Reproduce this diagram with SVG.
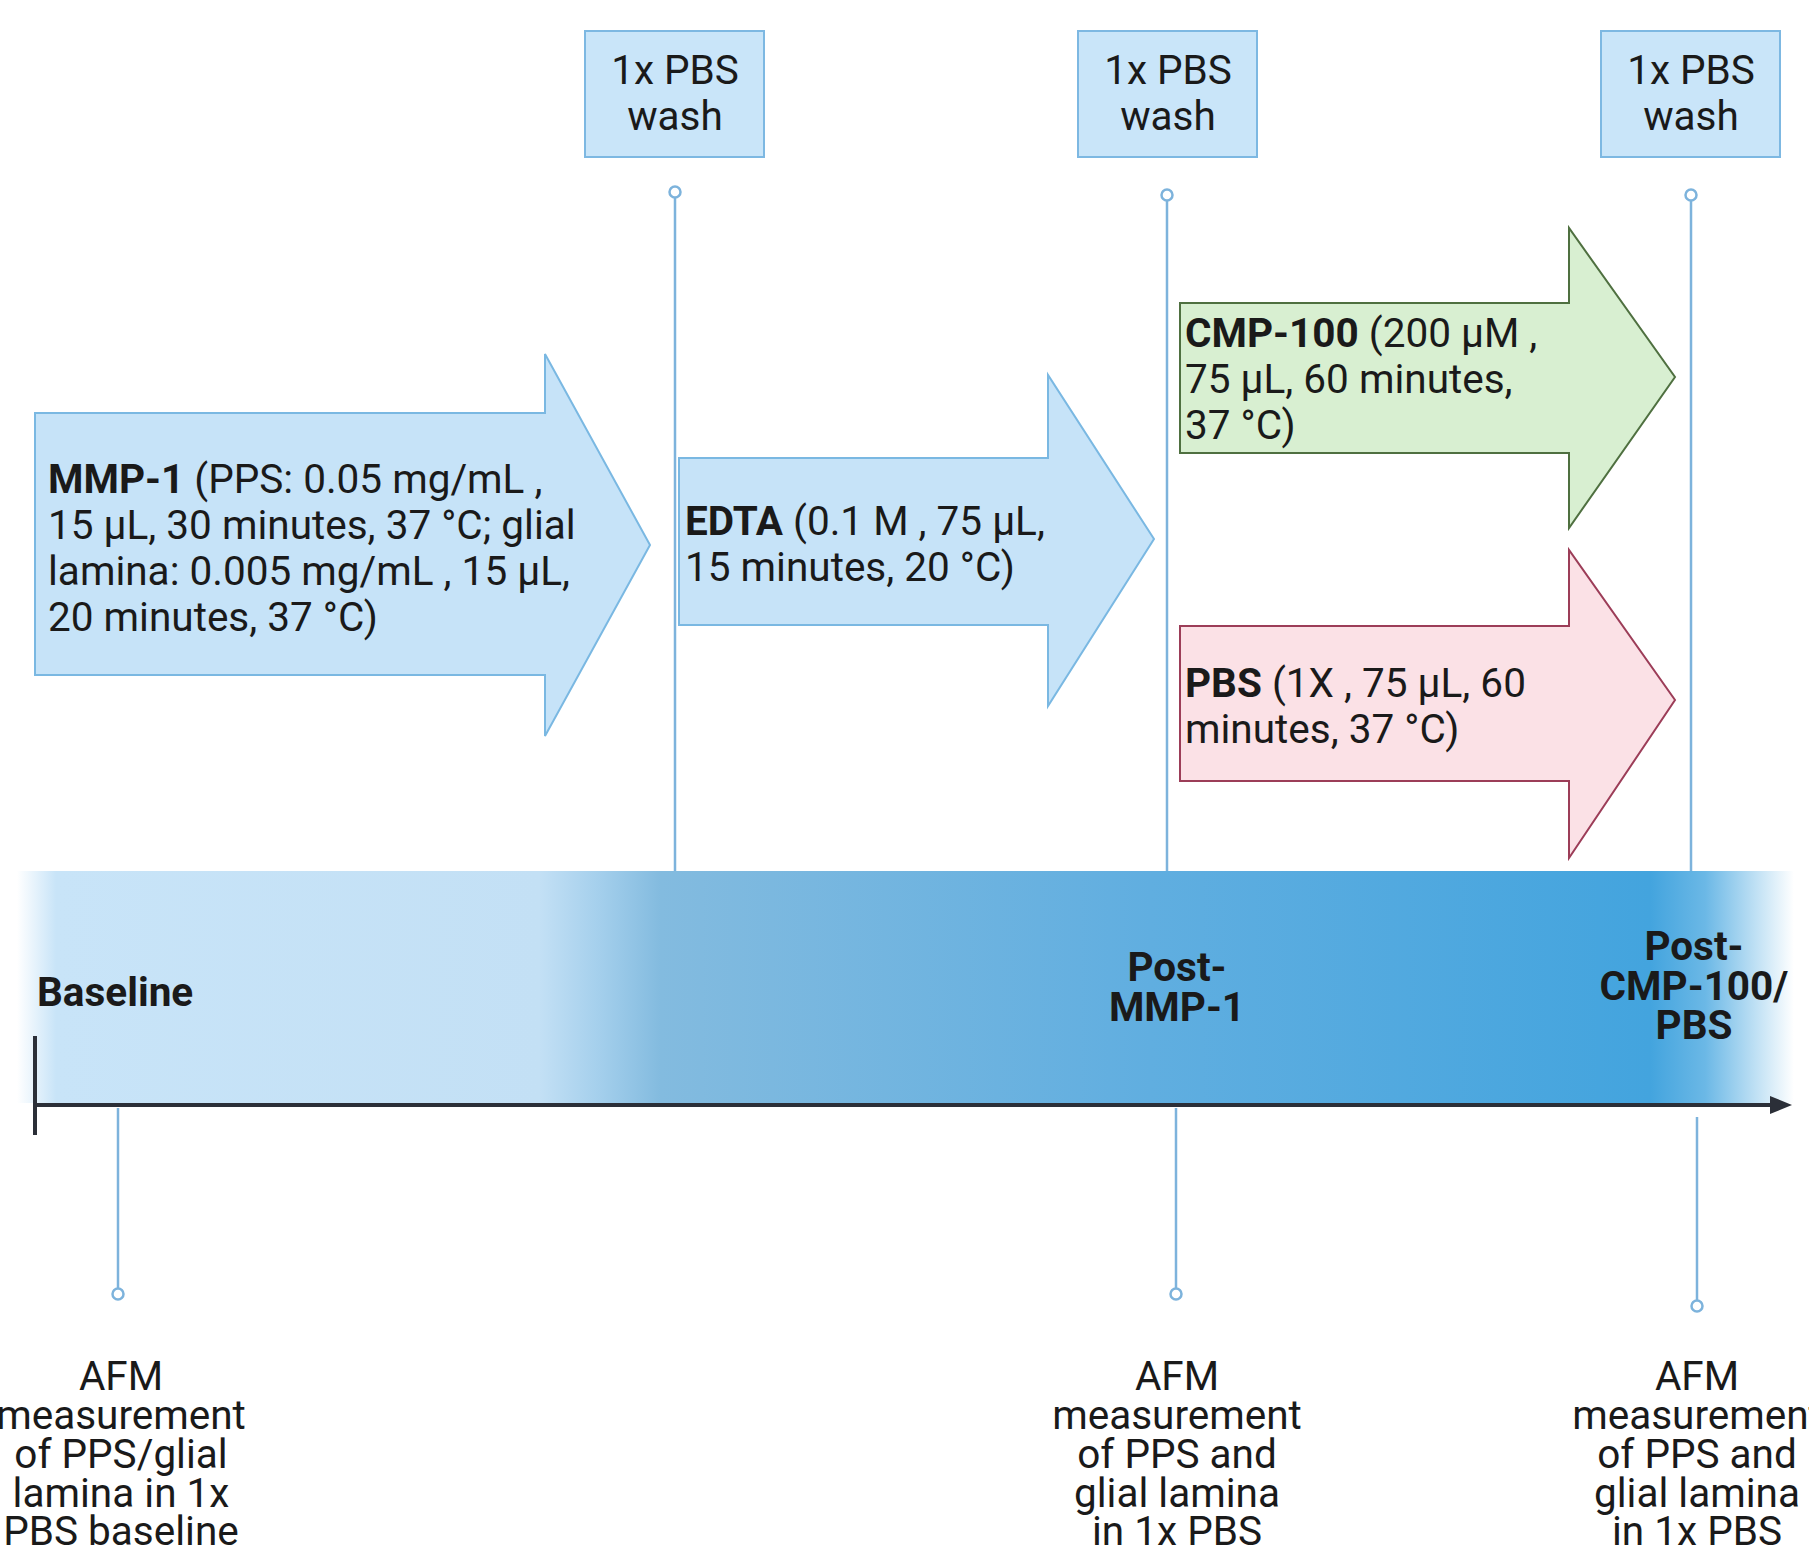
<svg xmlns="http://www.w3.org/2000/svg" width="1809" height="1556" viewBox="0 0 1809 1556">
<style>
.t{font-family:Roboto,"Liberation Sans",sans-serif;font-size:40.5px;fill:#1a1a1a}
.b{font-weight:bold}
.c{text-anchor:middle}
.wash{fill:#c9e5f9;stroke:#7db8e2;stroke-width:2}
.vl{stroke:#7db3dc;stroke-width:2.5;fill:none}
.dot{fill:#fff;stroke:#7db3dc;stroke-width:2.5}
.blue{fill:#c6e3f8;stroke:#7ab8e2;stroke-width:2}
.green{fill:#d8efd1;stroke:#4f7040;stroke-width:2}
.pink{fill:#fbe1e6;stroke:#9c3d58;stroke-width:2}
</style>
<defs>
<linearGradient id="band" x1="17" y1="0" x2="1794" y2="0" gradientUnits="userSpaceOnUse">
<stop offset="0" stop-color="#ffffff"/>
<stop offset="0.022" stop-color="#c8e4f8"/>
<stop offset="0.294" stop-color="#c3e0f5"/>
<stop offset="0.328" stop-color="#a4cfec"/>
<stop offset="0.362" stop-color="#83bbdf"/>
<stop offset="0.638" stop-color="#60aee0"/>
<stop offset="0.919" stop-color="#43a4de"/>
<stop offset="0.95" stop-color="#6bb8e6"/>
<stop offset="1" stop-color="#ffffff"/>
</linearGradient>
</defs>

<g id="timeline-band">
<rect x="17" y="871" width="1777" height="232" fill="url(#band)"/>
</g>

<g id="connectors">
<line class="vl" x1="675" y1="198" x2="675" y2="871"/>
<circle class="dot" cx="675" cy="192" r="5.5"/>
<line class="vl" x1="1167" y1="201" x2="1167" y2="871"/>
<circle class="dot" cx="1167" cy="195" r="5.5"/>
<line class="vl" x1="1691" y1="201" x2="1691" y2="871"/>
<circle class="dot" cx="1691" cy="195" r="5.5"/>
<line class="vl" x1="118" y1="1108" x2="118" y2="1288"/>
<circle class="dot" cx="118" cy="1294" r="5.5"/>
<line class="vl" x1="1176" y1="1108" x2="1176" y2="1288"/>
<circle class="dot" cx="1176" cy="1294" r="5.5"/>
<line class="vl" x1="1697" y1="1117" x2="1697" y2="1300"/>
<circle class="dot" cx="1697" cy="1306" r="5.5"/>
<line x1="35" y1="1036" x2="35" y2="1135" stroke="#2b2f38" stroke-width="4"/>
<line x1="35" y1="1105" x2="1772" y2="1105" stroke="#2b2f38" stroke-width="4"/>
<polygon points="1770,1096 1792,1105 1770,1114" fill="#2b2f38"/>
</g>

<g id="wash1">
<rect class="wash" x="585" y="31" width="179" height="126"/>
<text class="t c" x="675" y="84">1x PBS</text>
<text class="t c" x="675" y="130">wash</text>
</g>
<g id="wash2">
<rect class="wash" x="1078" y="31" width="179" height="126"/>
<text class="t c" x="1168" y="84">1x PBS</text>
<text class="t c" x="1168" y="130">wash</text>
</g>
<g id="wash3">
<rect class="wash" x="1601" y="31" width="179" height="126"/>
<text class="t c" x="1691" y="84">1x PBS</text>
<text class="t c" x="1691" y="130">wash</text>
</g>

<g id="mmp1">
<polygon class="blue" points="35,413 545,413 545,354 650,545 545,736 545,675 35,675"/>
<text class="t" x="48" y="493"><tspan class="b">MMP-1</tspan> (PPS: 0.05 mg/mL ,</text>
<text class="t" x="48" y="539">15 µL, 30 minutes, 37 °C; glial</text>
<text class="t" x="48" y="585">lamina: 0.005 mg/mL , 15 µL,</text>
<text class="t" x="48" y="631">20 minutes, 37 °C)</text>
</g>

<g id="edta">
<polygon class="blue" points="679,458 1048,458 1048,375 1154,539 1048,706 1048,625 679,625"/>
<text class="t" x="685" y="535"><tspan class="b">EDTA</tspan> (0.1 M , 75 µL,</text>
<text class="t" x="685" y="581">15 minutes, 20 °C)</text>
</g>

<g id="cmp100">
<polygon class="green" points="1180,303 1569,303 1569,228 1675,377 1569,528 1569,453 1180,453"/>
<text class="t" x="1185" y="347"><tspan class="b">CMP-100</tspan> (200 µM ,</text>
<text class="t" x="1185" y="393">75 µL, 60 minutes,</text>
<text class="t" x="1185" y="439">37 °C)</text>
</g>

<g id="pbs">
<polygon class="pink" points="1180,626 1569,626 1569,550 1675,700 1569,858 1569,781 1180,781"/>
<text class="t" x="1185" y="697"><tspan class="b">PBS</tspan> (1X , 75 µL, 60</text>
<text class="t" x="1185" y="743">minutes, 37 °C)</text>
</g>

<g id="label-baseline">
<text class="t b" x="37" y="1006">Baseline</text>
</g>
<g id="label-postmmp">
<text class="t b c" x="1177" y="981">Post-</text>
<text class="t b c" x="1177" y="1021">MMP-1</text>
</g>
<g id="label-postcmp">
<text class="t b c" x="1694" y="960">Post-</text>
<text class="t b c" x="1694" y="1000">CMP-100/</text>
<text class="t b c" x="1694" y="1039">PBS</text>
</g>

<g id="afm1">
<text class="t c" x="121" y="1390">AFM</text>
<text class="t c" x="121" y="1429">measurement</text>
<text class="t c" x="121" y="1468">of PPS/glial</text>
<text class="t c" x="121" y="1507">lamina in 1x</text>
<text class="t c" x="121" y="1545">PBS baseline</text>
</g>
<g id="afm2">
<text class="t c" x="1177" y="1390">AFM</text>
<text class="t c" x="1177" y="1429">measurement</text>
<text class="t c" x="1177" y="1468">of PPS and</text>
<text class="t c" x="1177" y="1507">glial lamina</text>
<text class="t c" x="1177" y="1545">in 1x PBS</text>
</g>
<g id="afm3">
<text class="t c" x="1697" y="1390">AFM</text>
<text class="t c" x="1697" y="1429">measurement</text>
<text class="t c" x="1697" y="1468">of PPS and</text>
<text class="t c" x="1697" y="1507">glial lamina</text>
<text class="t c" x="1697" y="1545">in 1x PBS</text>
</g>
</svg>
